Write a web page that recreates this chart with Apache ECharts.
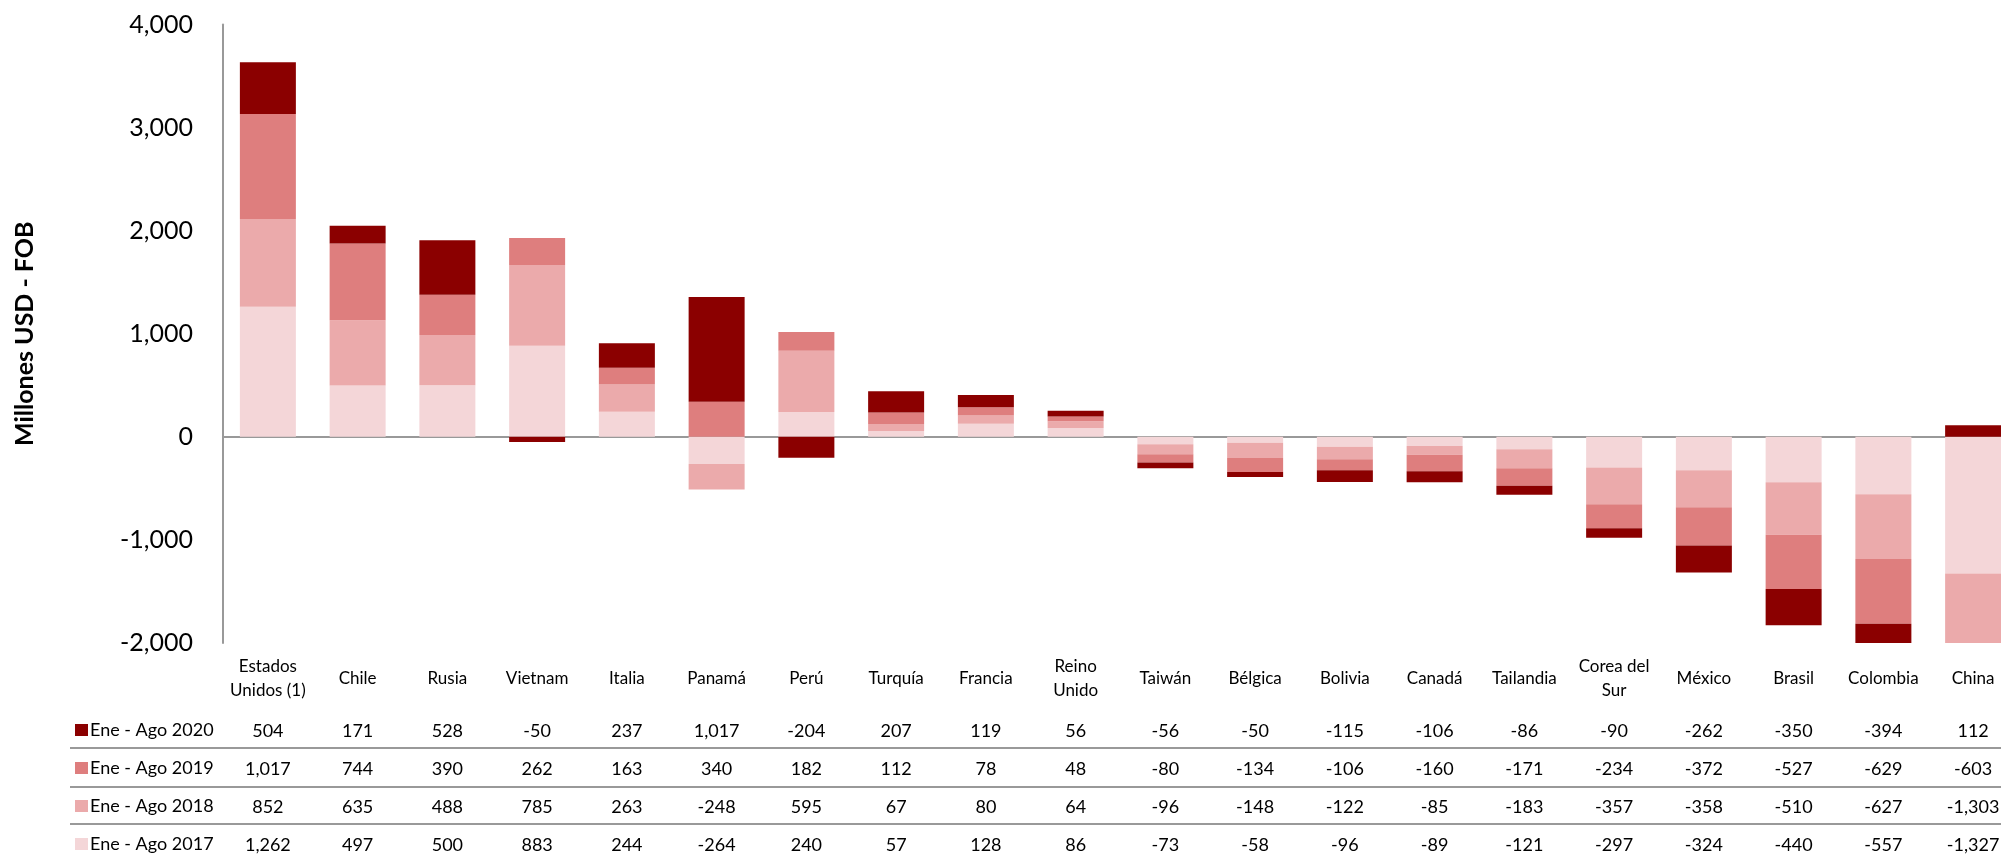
<!DOCTYPE html>
<html>
<head>
<meta charset="utf-8">
<script src="https://cdn.jsdelivr.net/npm/echarts@6/dist/echarts.min.js"></script>
<style>
  html, body { margin: 0; padding: 0; background: #fff; }
  #chart { width: 2001px; height: 855px; }
</style>
</head>
<body>
<div id="chart"></div>
<script>
const categories = ['Estados\nUnidos (1)', 'Chile', 'Rusia', 'Vietnam', 'Italia', 'Panamá', 'Perú', 'Turquía', 'Francia', 'Reino\nUnido', 'Taiwán', 'Bélgica', 'Bolivia', 'Canadá', 'Tailandia', 'Corea del\nSur', 'México', 'Brasil', 'Colombia', 'China'];
const seriesNames = ['Ene - Ago 2020', 'Ene - Ago 2019', 'Ene - Ago 2018', 'Ene - Ago 2017'];
const values2020 = [504, 171, 528, -50, 237, 1017, -204, 207, 119, 56, -56, -50, -115, -106, -86, -90, -262, -350, -394, 112];
const values2019 = [1017, 744, 390, 262, 163, 340, 182, 112, 78, 48, -80, -134, -106, -160, -171, -234, -372, -527, -629, -603];
const values2018 = [852, 635, 488, 785, 263, -248, 595, 67, 80, 64, -96, -148, -122, -85, -183, -357, -358, -510, -627, -1303];
const values2017 = [1262, 497, 500, 883, 244, -264, 240, 57, 128, 86, -73, -58, -96, -89, -121, -297, -324, -440, -557, -1327];
const yTicks = { min: -2000, max: 4000, interval: 1000 };

const colors = { '2020': '#8B0000', '2019': '#DE7E7E', '2018': '#EBAAAB', '2017': '#F4D6D8' };
const FONT = 'Lato';
const fmt = v => Number(v).toLocaleString('en-US');

const table = [values2020, values2019, values2018, values2017];
const rowOffsets = [88, 126, 164, 202];

const chart = echarts.init(document.getElementById('chart'), null, { renderer: 'canvas' });

const xAxes = [
  {
    type: 'category', gridIndex: 0, data: categories, position: 'bottom',
    axisLine: { show: false, onZero: false }, axisTick: { show: false },
    axisLabel: { interval: 0, fontFamily: FONT, fontSize: 17, color: '#000', lineHeight: 24, verticalAlign: 'middle', margin: 36 }
  },
  {
    type: 'category', gridIndex: 0, data: categories, position: 'bottom',
    axisLine: { show: true, onZero: true, lineStyle: { color: '#999', width: 2 } },
    axisTick: { show: false }, axisLabel: { show: false }
  }
];
table.forEach((vals, r) => {
  xAxes.push({
    type: 'category', gridIndex: 0, data: categories, position: 'bottom', offset: rowOffsets[r],
    axisLine: { show: false, onZero: false }, axisTick: { show: false },
    axisLabel: {
      interval: 0, fontFamily: FONT, fontSize: 18, color: '#000', verticalAlign: 'middle', margin: 0,
      formatter: (value, idx) => fmt(vals[idx])
    }
  });
});

const mkSeries = (name, data, color) => ({
  name, type: 'bar', stack: 'total', data, barWidth: 56, xAxisIndex: 0, yAxisIndex: 0,
  itemStyle: { color }, emphasis: { disabled: true }
});

chart.setOption({
  animation: false,
  backgroundColor: '#fff',
  textStyle: { fontFamily: FONT },
  grid: { left: 223, top: 24.5, bottom: 212, width: 1795, outerBoundsMode: 'none', containLabel: false },
  legend: {
    orient: 'vertical', left: 75, top: 721, padding: 0, itemGap: 20,
    itemWidth: 13, itemHeight: 12, icon: 'rect',
    data: seriesNames,
    textStyle: { fontFamily: FONT, fontSize: 18, color: '#000', lineHeight: 18, padding: [0, 0, 0, -3] }
  },
  xAxis: xAxes,
  yAxis: {
    type: 'value', min: yTicks.min, max: yTicks.max, interval: yTicks.interval,
    name: 'Millones USD - FOB', nameLocation: 'middle', nameRotate: 90, nameGap: 186,
    nameTextStyle: { fontFamily: FONT, fontSize: 25, fontWeight: 'bold', color: '#000' },
    axisLine: { show: true, lineStyle: { color: '#999', width: 2 } },
    axisTick: { show: false },
    splitLine: { show: false },
    axisLabel: { fontFamily: FONT, fontSize: 25, color: '#000', margin: 30, formatter: v => fmt(v) }
  },
  graphic: [748, 787, 824].map(y => ({
    type: 'line', silent: true,
    shape: { x1: 70, y1: y, x2: 2001, y2: y },
    style: { stroke: '#999', lineWidth: 2 }
  })),
  series: [
    mkSeries(seriesNames[3], values2017, colors['2017']),
    mkSeries(seriesNames[2], values2018, colors['2018']),
    mkSeries(seriesNames[1], values2019, colors['2019']),
    mkSeries(seriesNames[0], values2020, colors['2020'])
  ]
});
</script>
</body>
</html>
